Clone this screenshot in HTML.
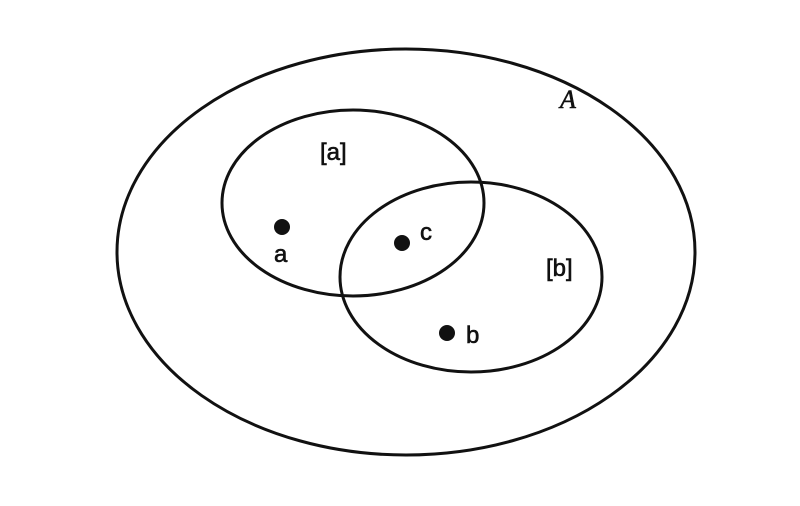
<!DOCTYPE html>
<html><head><meta charset="utf-8"><style>
html,body{margin:0;padding:0;background:#fff;}
</style></head><body>
<svg width="800" height="501" viewBox="0 0 800 501" xmlns="http://www.w3.org/2000/svg">
<g fill="none" stroke="#111" stroke-width="3">
<ellipse cx="406" cy="252" rx="289" ry="203"/>
<ellipse cx="353" cy="203" rx="131" ry="93"/>
<ellipse cx="471" cy="277" rx="131" ry="95"/>
</g>
<g fill="#111">
<circle cx="282" cy="227" r="8"/>
<circle cx="402" cy="243" r="8"/>
<circle cx="447" cy="333" r="8"/>
</g>
<g font-family="Liberation Sans, sans-serif" font-size="24" fill="#111" stroke="#111" stroke-width="0.6">
<text x="320" y="160">[a]</text>
<text x="274" y="262">a</text>
<text x="420" y="240">c</text>
<text x="546" y="276">[b]</text>
<text x="466" y="343">b</text>
<text x="560" y="108" font-family="Liberation Serif, serif" font-style="italic" font-size="26">A</text>
</g>
</svg>
</body></html>
